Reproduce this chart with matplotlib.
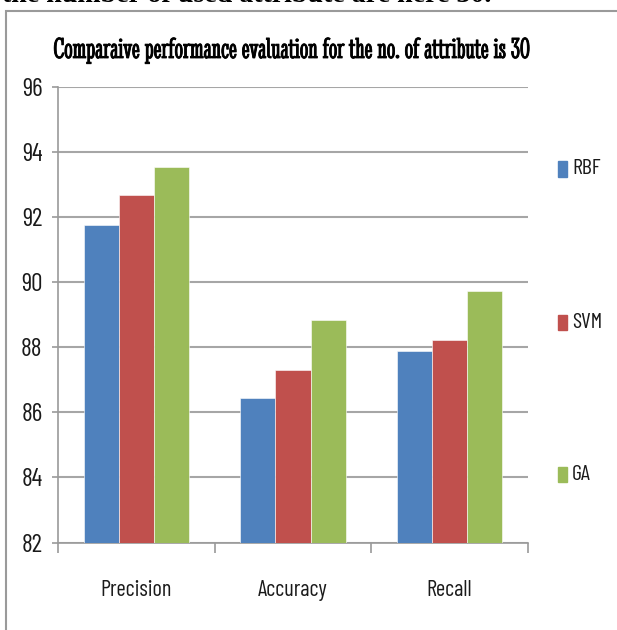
import matplotlib
matplotlib.use("Agg")
import matplotlib.pyplot as plt
import numpy as np
from matplotlib.patches import Rectangle
from matplotlib import font_manager as fm
import matplotlib.patheffects as pe

categories = ["Precision", "Accuracy", "Recall"]
series = ["RBF", "SVM", "GA"]
rbf = [91.75, 86.45, 87.89]
svm = [92.69, 87.29, 88.22]
ga = [93.56, 88.84, 89.73]
yticks = [82, 84, 86, 88, 90, 92, 94, 96]
colors = ["#4F81BD", "#C0504D", "#9BBB59"]

available = set(f.name for f in fm.fontManager.ttflist)


def pick(cands, default):
    for c in cands:
        if c in available:
            return c
    return default


SANS = pick(["Barlow Condensed", "Roboto Condensed", "IBM Plex Sans Condensed", "Archivo Narrow"], "DejaVu Sans")
TITLE = pick(["Stint Ultra Condensed"], "DejaVu Serif")
TITLE_W = "normal" if TITLE == "Stint Ultra Condensed" else "bold"

W, H = 617, 630
fig = plt.figure(figsize=(W / 100, H / 100), dpi=100)
renderer = fig.canvas.get_renderer()


def size_for(text, family, target_w, weight="normal"):
    t = fig.text(0, 0, text, fontsize=10, family=family, fontweight=weight)
    w = t.get_window_extent(renderer).width
    t.remove()
    return 10 * target_w / w


# outer frame of the embedded chart
fig.patches.append(Rectangle((6 / W, -0.05), 1.2, (H - 11) / H + 0.05, transform=fig.transFigure,
                             fill=False, edgecolor="#9a9a9a", linewidth=1.5))
# cut-off sentence at the top of the page
top_fs = size_for("the number of used attribute are here 30.", "Liberation Serif", 490, weight="bold")
fig.text(2 / W, 1 + 17 / H, "the number of used attribute are here 30.", ha="left", va="top",
         fontsize=top_fs, fontweight="bold", family="Liberation Serif", color="black")

y_top, y_bot = 87.3, 542.5
ax = fig.add_axes([58 / W, 1 - y_bot / H, (528 - 58) / W, (y_bot - y_top) / H])
x = np.arange(len(categories))
bw = 0.224
for i, (vals, name) in enumerate(zip([rbf, svm, ga], series)):
    ax.bar(x + (i - 1) * bw, np.array(vals) - 82, bw, bottom=82, color=colors[i],
           label=name, zorder=3, edgecolor="white", linewidth=0.4)

k = 1.15
tick_fs = size_for("96", SANS, 18) * k
cat_fs = size_for("Precision", SANS, 62) * k
leg_fs = size_for("RBF", SANS, 25) * k

ax.set_xlim(-0.5, 2.5)
ax.set_ylim(82, 96)
ax.set_yticks(yticks)
ax.set_yticklabels([str(v) for v in yticks], family=SANS, fontsize=tick_fs, color="#1a1a1a")
ax.set_xticks(x)
ax.set_xticklabels(categories, family=SANS, fontsize=cat_fs, color="#1a1a1a")
ax.tick_params(axis="x", length=0, pad=27)
ax.set_xticks([-0.5, 0.5, 1.5, 2.5], minor=True)
ax.tick_params(axis="x", which="minor", length=7, color="#9a9a9a", width=1.2, direction="out")
ax.tick_params(axis="y", length=4.3, color="#9a9a9a", width=1.2, pad=7)
ax.grid(axis="y", color="#a6a6a6", linewidth=1.5, zorder=0)
for s in ["top", "right"]:
    ax.spines[s].set_visible(False)
ax.spines["left"].set_color("#9a9a9a")
ax.spines["bottom"].set_color("#9a9a9a")
ax.spines["left"].set_linewidth(1.2)
ax.spines["bottom"].set_linewidth(1.2)

title = "Comparaive performance evaluation for the no. of attribute is 30"
title_fs = size_for(title, TITLE, 475, weight=TITLE_W)
t = fig.text(292 / W, 1 - 51 / H, title, ha="center", va="center", fontsize=title_fs,
             fontweight=TITLE_W, family=TITLE, color="black")
if TITLE_W == "normal":
    t.set_path_effects([pe.withStroke(linewidth=0.6, foreground="black")])

leg_y = [169, 322, 474]
for name, c, yy in zip(series, colors, leg_y):
    fig.patches.append(Rectangle((558 / W, 1 - (yy + 7.5) / H), 8.5 / W, 15 / H,
                                 transform=fig.transFigure, color=c))
    fig.text(572 / W, 1 - yy / H, name, ha="left", va="center", fontsize=leg_fs, family=SANS,
             color="#1a1a1a")

fig.savefig("out.png", dpi=100)
